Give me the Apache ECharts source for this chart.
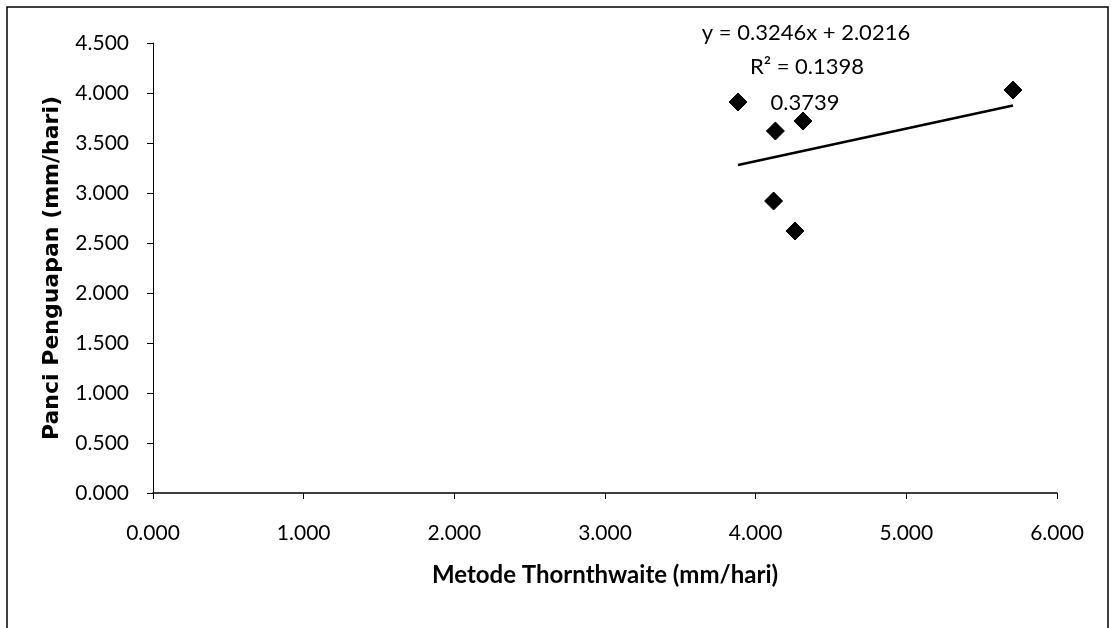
<!DOCTYPE html>
<html>
<head>
<meta charset="utf-8">
<script src="https://cdn.jsdelivr.net/npm/echarts@6/dist/echarts.min.js"></script>
<style>
  html, body { margin: 0; padding: 0; background: #fff; }
  #chart { width: 1113px; height: 628px; }
</style>
</head>
<body>
<div id="chart"></div>
<script>
// titik data (Metode Thornthwaite vs Panci Penguapan)
const xValues = [3.883, 4.131, 4.314, 5.708, 4.119, 4.261];
const yValues = [3.91, 3.62, 3.72, 4.03, 2.92, 2.62];
// garis trend linear
const trendX = [3.883, 5.708];
const trendY = [3.28, 3.875];
// teks persamaan
const eqLines = ['y = 0.3246x + 2.0216', 'R² = 0.1398', '0.3739'];
const xName = 'Metode Thornthwaite (mm/hari)';
const yName = 'Panci Penguapan (mm/hari)';

const font = 'Lato, "Open Sans", sans-serif';
const chart = echarts.init(document.getElementById('chart'));

let option = {
    animation: false,
    backgroundColor: '#fff',
    grid: { left: 153, right: 56, top: 43, bottom: 135 },
    xAxis: {
        type: 'value',
        min: 0, max: 6, interval: 1,
        name: xName,
        nameLocation: 'middle',
        nameGap: 70,
        nameTextStyle: { fontFamily: font, fontSize: 24, fontWeight: 'bold', color: '#000' },
        axisLine: { onZero: false, lineStyle: { color: '#000', width: 1.5 } },
        axisTick: { show: true, length: 6, lineStyle: { color: '#000' } },
        axisLabel: {
            fontFamily: font, fontSize: 21, color: '#000', margin: 30,
            formatter: v => v.toFixed(3)
        },
        splitLine: { show: false }
    },
    yAxis: {
        type: 'value',
        min: 0, max: 4.5, interval: 0.5,
        name: yName,
        nameLocation: 'middle',
        nameGap: 90,
        nameRotate: 90,
        nameTextStyle: { fontFamily: '"DejaVu Sans", sans-serif', fontSize: 22, fontWeight: 'bold', color: '#000' },
        axisLine: { show: true, onZero: false, lineStyle: { color: '#000', width: 1 } },
        axisTick: { show: true, length: 6, lineStyle: { color: '#000' } },
        axisLabel: {
            fontFamily: font, fontSize: 21, color: '#000', margin: 24,
            formatter: v => v.toFixed(3)
        },
        splitLine: { show: false }
    },
    series: [
        {
            type: 'line',
            data: trendX.map((x, i) => [x, trendY[i]]),
            showSymbol: false,
            lineStyle: { color: '#000', width: 2.5 },
            z: 2
        },
        {
            type: 'scatter',
            data: xValues.map((x, i) => [x, yValues[i]]),
            symbol: 'diamond',
            symbolSize: 18,
            itemStyle: { color: '#000', opacity: 1, borderColor: '#000', borderWidth: 1 },
            z: 3
        }
    ],
    graphic: [
        {
            type: 'polyline',
            shape: { points: [[7, 640], [7, 7], [1108, 7], [1108, 640]] },
            style: { stroke: '#000', lineWidth: 1.5, fill: null }
        },
        {
            type: 'text', x: 806, y: 33,
            style: { text: eqLines[0], font: '22px ' + font, fill: '#000', textAlign: 'center', textVerticalAlign: 'middle' }
        },
        {
            type: 'text', x: 807, y: 67,
            style: { text: eqLines[1], font: '22px ' + font, fill: '#000', textAlign: 'center', textVerticalAlign: 'middle' }
        },
        {
            type: 'text', x: 805, y: 103,
            style: { text: eqLines[2], font: '22px ' + font, fill: '#000', textAlign: 'center', textVerticalAlign: 'middle' }
        }
    ]
};
option && chart.setOption(option);
</script>
</body>
</html>
